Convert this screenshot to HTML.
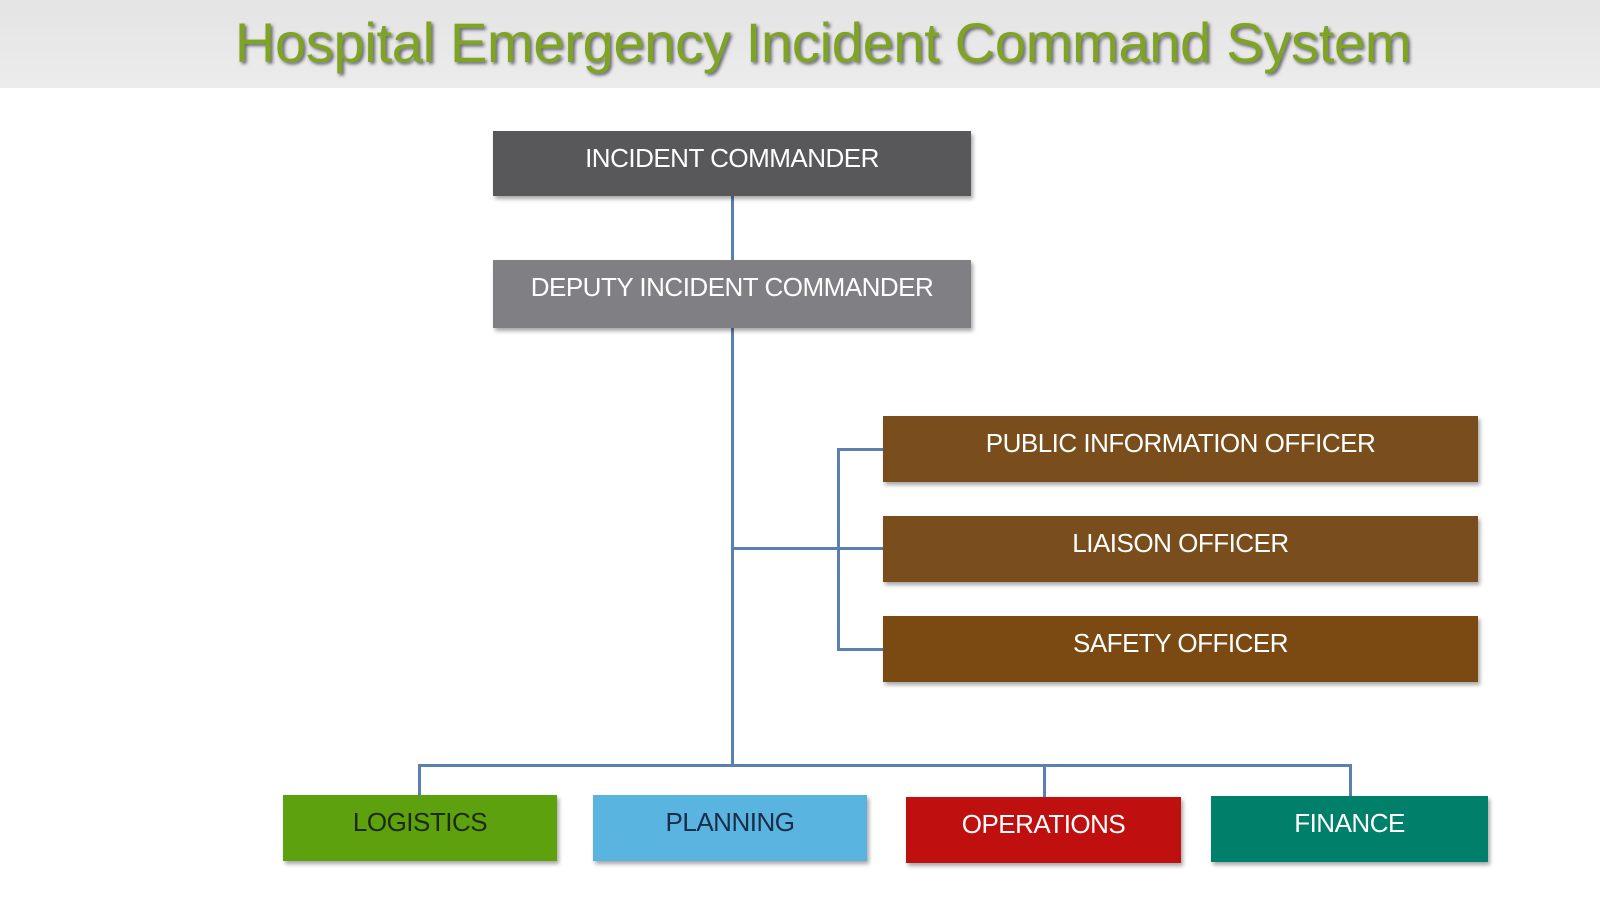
<!DOCTYPE html>
<html><head><style>
body{margin:0;width:1600px;height:900px;background:#fff;position:relative;overflow:hidden;font-family:"Liberation Sans",sans-serif}
.band{position:absolute;left:0;top:0;width:1600px;height:88px;background:linear-gradient(#e4e4e4,#ececec)}
.title{position:absolute;left:0;width:1600px;box-sizing:border-box;padding-left:46px;top:10px;text-align:center;font-size:56px;letter-spacing:-0.3px;color:#7fa323;text-shadow:2px 2px 3px #667;font-weight:normal}
.b{position:absolute;color:#fff;font-size:26px;text-align:center;box-sizing:border-box;padding-top:12px;box-shadow:2px 3px 4px rgba(0,0,0,.35);letter-spacing:-0.5px}
.l{position:absolute;background:#5b7fae}
</style></head><body>
<div class="band"></div>
<div class="title">Hospital Emergency Incident Command System</div>
<div class="l" style="left:731px;top:196px;width:3px;height:570px"></div>
<div class="l" style="left:731px;top:547px;width:152px;height:3px"></div>
<div class="l" style="left:837px;top:448px;width:3px;height:202px"></div>
<div class="l" style="left:837px;top:448px;width:46px;height:3px"></div>
<div class="l" style="left:837px;top:648px;width:46px;height:3px"></div>
<div class="l" style="left:418px;top:764px;width:934px;height:3px"></div>
<div class="l" style="left:418px;top:764px;width:3px;height:32px"></div>
<div class="l" style="left:1043px;top:764px;width:3px;height:33px"></div>
<div class="l" style="left:1349px;top:764px;width:3px;height:33px"></div>
<div class="b" style="left:493px;top:131px;width:478px;height:65px;background:#58585a">INCIDENT COMMANDER</div>
<div class="b" style="left:493px;top:260px;width:478px;height:68px;background:#808084">DEPUTY INCIDENT COMMANDER</div>
<div class="b" style="left:883px;top:416px;width:595px;height:66px;background:#7a4e1c">PUBLIC INFORMATION OFFICER</div>
<div class="b" style="left:883px;top:516px;width:595px;height:66px;background:#7a4e1c">LIAISON OFFICER</div>
<div class="b" style="left:883px;top:616px;width:595px;height:66px;background:#7a4a12">SAFETY OFFICER</div>
<div class="b" style="left:283px;top:795px;width:274px;height:66px;background:#5ea10e;color:#1d2a10">LOGISTICS</div>
<div class="b" style="left:593px;top:795px;width:274px;height:66px;background:#5ab4e0;color:#1a2c4a">PLANNING</div>
<div class="b" style="left:906px;top:797px;width:275px;height:66px;background:#c00f0f">OPERATIONS</div>
<div class="b" style="left:1211px;top:796px;width:277px;height:66px;background:#00806a">FINANCE</div>
</body></html>
